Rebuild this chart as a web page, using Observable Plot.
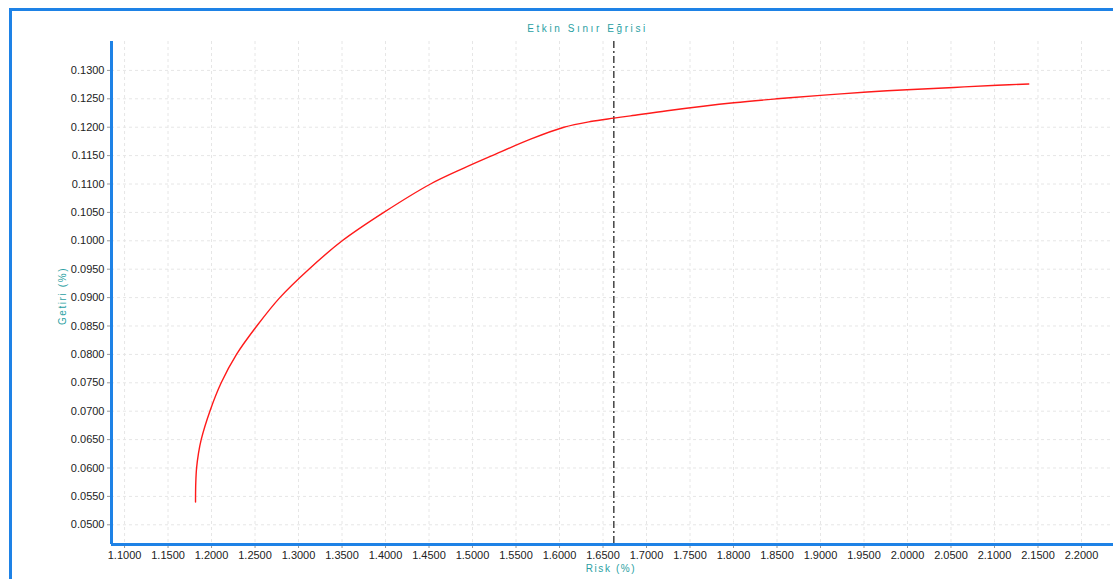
<!DOCTYPE html>
<html>
<head>
<meta charset="utf-8">
<script src="https://cdn.jsdelivr.net/npm/d3@7"></script>
<script src="https://cdn.jsdelivr.net/npm/@observablehq/plot@0.6"></script>
<style>
  html, body { margin: 0; padding: 0; background: #fff; }
  #wrap { position: relative; width: 1113px; height: 579px; overflow: hidden; font-family: "Liberation Sans", Arial, sans-serif; }
  #frame { position: absolute; left: 9px; top: 8px; width: 1200px; height: 700px; border: 3px solid #1e82e6; box-sizing: border-box; }
  #chart { position: absolute; left: 0; top: 0; }
  .lbl { position: absolute; color: #2a9fa3; font-size: 10px; letter-spacing: 2.6px; white-space: nowrap; }
</style>
</head>
<body>
<div id="wrap">
  <div id="frame"></div>
  <div id="chart"></div>
  <div class="lbl" id="title" style="left:0;width:1175px;top:23px;text-align:center;">Etkin Sınır Eğrisi</div>
  <div class="lbl" id="xlab" style="left:0;width:1222px;top:563px;text-align:center;letter-spacing:1.6px;">Risk (%)</div>
  <div class="lbl" id="ylab" style="left:62px;top:296px;letter-spacing:1.6px;transform:translate(-50%,-50%) rotate(-90deg);">Getiri (%)</div>
</div>
<script>
// Curve data (risk %, return %)
const risk = [1.1816,1.1816,1.1819,1.1828,1.1849,1.1881,1.1981,1.2111,1.2287,1.2520,1.2785,1.3119,1.3502,1.3980,1.4517,1.4900,1.5226,1.5667,1.6050,1.6356,1.6624,1.6816,1.7238,1.8004,1.8500,1.9000,1.9537,1.9996,2.0533,2.1031,2.1394];
const ret  = [0.0540,0.0550,0.0575,0.0600,0.0625,0.0650,0.0700,0.0750,0.0800,0.0850,0.0900,0.0950,0.1000,0.1050,0.1100,0.1128,0.1150,0.1179,0.1200,0.1210,0.1216,0.1220,0.1229,0.1243,0.1250,0.1256,0.1262,0.1266,0.1270,0.1274,0.1276];
// Vertical marker (selected portfolio risk)
const markerRisk = [1.6624];
// Axis ticks
const xTicks = [1.10,1.15,1.20,1.25,1.30,1.35,1.40,1.45,1.50,1.55,1.60,1.65,1.70,1.75,1.80,1.85,1.90,1.95,2.00,2.05,2.10,2.15,2.20];
const yTicks = [0.050,0.055,0.060,0.065,0.070,0.075,0.080,0.085,0.090,0.095,0.100,0.105,0.110,0.115,0.120,0.125,0.130];
const xDomain = [1.085, 2.2368];
const yDomain = [0.04653, 0.13509];

const data = risk.map((r, i) => ({risk: r, ret: ret[i]}));
const fmt = d3.format(".4f");
const blue = "#1e82e6";

const plot = Plot.plot({
  width: 1113,
  height: 579,
  marginLeft: 111,
  marginRight: 0,
  marginTop: 41,
  marginBottom: 35,
  style: {fontFamily: "'Liberation Sans', Arial, sans-serif", fontSize: "11px", background: "transparent", overflow: "visible"},
  x: {domain: xDomain},
  y: {domain: yDomain},
  marks: [
    Plot.gridX(xTicks, {stroke: "#e6e6e6", strokeOpacity: 1, strokeDasharray: "3,3"}),
    Plot.gridY(yTicks, {stroke: "#e6e6e6", strokeOpacity: 1, strokeDasharray: "3,3"}),
    Plot.axisX(xTicks, {tickFormat: fmt, tickSize: 4, tickPadding: 3, stroke: "#999", fill: "#222", label: null}),
    Plot.axisY(yTicks, {tickFormat: fmt, tickSize: 4, tickPadding: 3, stroke: "#999", fill: "#222", label: null}),
    Plot.ruleX(markerRisk, {stroke: "#444", strokeWidth: 1.5, strokeDasharray: "7,3,2,3"}),
    Plot.line(data, {x: "risk", y: "ret", stroke: "#ff1a1a", strokeWidth: 1.4, curve: "catmull-rom"}),
    Plot.ruleX([xDomain[0]], {stroke: blue, strokeWidth: 3}),
    Plot.ruleY([yDomain[0]], {stroke: blue, strokeWidth: 3})
  ]
});
document.getElementById("chart").appendChild(plot);
</script>
</body>
</html>
